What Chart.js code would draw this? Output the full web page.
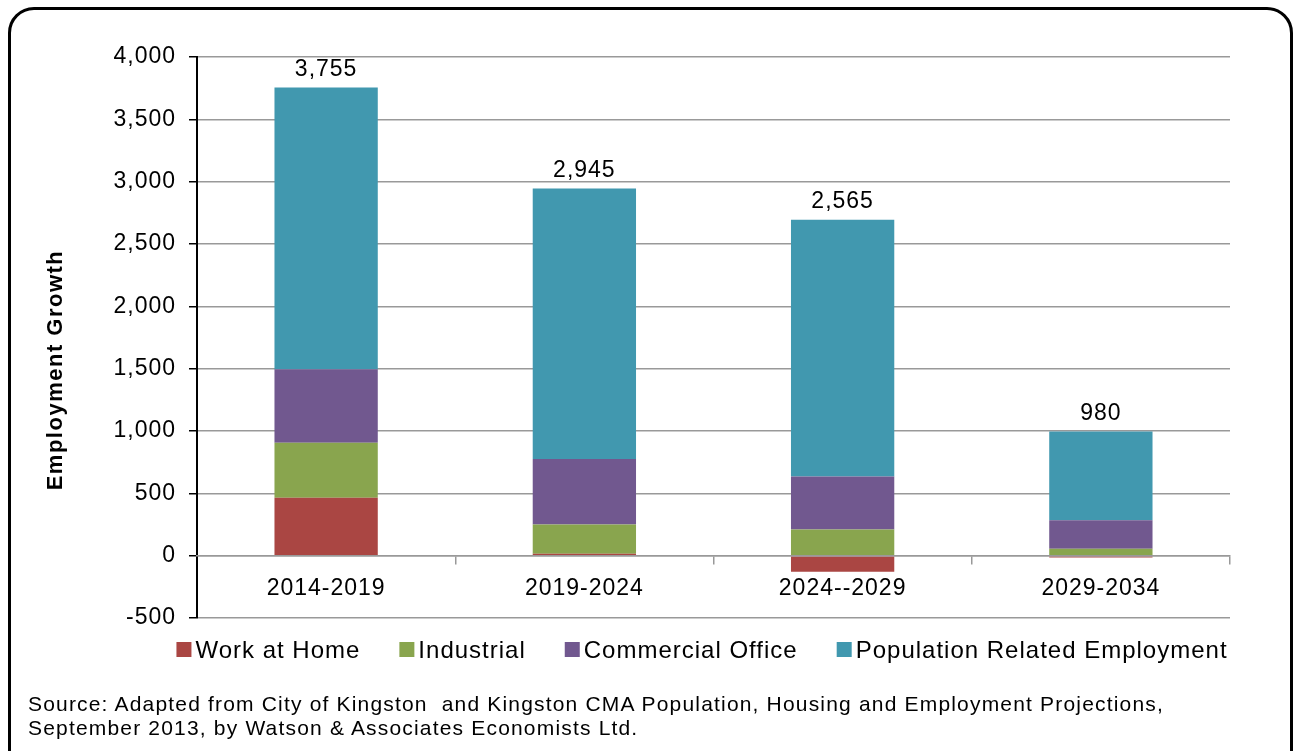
<!DOCTYPE html>
<html>
<head>
<meta charset="utf-8">
<title>Employment Growth</title>
<script src="https://cdn.jsdelivr.net/npm/chart.js@4.4.0/dist/chart.umd.min.js"></script>
<style>
  body { margin: 0; background: #fff; font-family: "Liberation Sans", Arial, sans-serif; overflow: hidden; }
  #frame { position: absolute; left: 8px; top: 7px; width: 1285px; height: 820px; border: 3px solid #000; border-radius: 26px; box-sizing: border-box; }
  #chart { position: absolute; left: 0; top: 0; }
  #source { position: absolute; left: 28px; top: 692px; font-size: 21px; line-height: 24px; letter-spacing: 1.18px; color: #000; white-space: nowrap; }
</style>
</head>
<body>
<div id="frame"></div>
<canvas id="chart" width="1297" height="751"></canvas>
<div id="source">Source: Adapted from City of Kingston&nbsp; and Kingston CMA Population, Housing and Employment Projections,<br>September 2013, by Watson &amp; Associates Economists Ltd.</div>

<script>
// periods on the x axis
const periods = ['2014-2019', '2019-2024', '2024--2029', '2029-2034'];

// employment growth by sector (jobs)
const workAtHome = [465, 15, -130, -15];
const industrial = [440, 235, 210, 55];
const commercialOffice = [590, 525, 425, 230];
const populationRelated = [2260, 2170, 2060, 710];

const seriesNames = ['Work at Home', 'Industrial', 'Commercial Office', 'Population Related Employment'];
const seriesColors = ['#AA4643', '#89A54E', '#71588F', '#4198AF'];
const seriesValues = [workAtHome, industrial, commercialOffice, populationRelated];

// y axis range
const yMin = -500;
const yMax = 4000;
const yStep = 500;

const FONT = '"Liberation Sans", Arial, sans-serif';
const SIZE = 23;
const SPACING = '1px';

// wider text, set again whenever the canvas state is reset
const letterSpacing = {
  id: 'letterSpacing',
  beforeUpdate(chart) { chart.ctx.letterSpacing = SPACING; },
  beforeDraw(chart) { chart.ctx.letterSpacing = SPACING; }
};

// totals written over each stack
const totalLabels = {
  id: 'totalLabels',
  afterDatasetsDraw(chart) {
    const { ctx } = chart;
    const xScale = chart.scales.x;
    const yScale = chart.scales.y;
    ctx.save();
    ctx.letterSpacing = SPACING;
    ctx.font = SIZE + 'px ' + FONT;
    ctx.fillStyle = '#000';
    ctx.textAlign = 'center';
    ctx.textBaseline = 'alphabetic';
    periods.forEach((p, i) => {
      const total = seriesValues.reduce((s, arr) => s + arr[i], 0);
      const top = seriesValues.reduce((s, arr) => s + Math.max(arr[i], 0), 0);
      const x = xScale.getPixelForValue(i);
      const y = yScale.getPixelForValue(top) - 12;
      ctx.fillText(total.toLocaleString('en-US'), x, y);
    });
    ctx.restore();
  }
};

// rotated y axis title
const yTitle = {
  id: 'yTitle',
  afterDraw(chart) {
    const { ctx } = chart;
    ctx.save();
    ctx.letterSpacing = '1.5px';
    ctx.font = 'bold 22px ' + FONT;
    ctx.fillStyle = '#000';
    ctx.textAlign = 'center';
    ctx.textBaseline = 'middle';
    ctx.translate(56, 370);
    ctx.rotate(-Math.PI / 2);
    ctx.fillText('Employment Growth', 0, 0);
    ctx.restore();
  }
};

// legend row under the plot: small square, name, wide gap
const bottomLegend = {
  id: 'bottomLegend',
  afterDraw(chart) {
    const { ctx } = chart;
    const box = 15, gap = 4, itemGap = 39, centerX = 702, y = 650;
    ctx.save();
    ctx.letterSpacing = SPACING;
    ctx.font = '24px ' + FONT;
    ctx.textBaseline = 'middle';
    const widths = chart.data.datasets.map(ds => box + gap + ctx.measureText(ds.label).width);
    const total = widths.reduce((a, b) => a + b, 0) + itemGap * (widths.length - 1);
    let x = centerX - total / 2;
    chart.data.datasets.forEach((ds, i) => {
      ctx.fillStyle = ds.backgroundColor;
      ctx.fillRect(x, y - 8, box, box);
      ctx.fillStyle = '#000';
      ctx.fillText(ds.label, x + box + gap, y + 1);
      x += widths[i] + itemGap;
    });
    ctx.restore();
  }
};

const datasets = seriesNames.map((name, i) => ({
  label: name,
  data: seriesValues[i],
  backgroundColor: seriesColors[i],
  borderWidth: 0,
  categoryPercentage: 0.8,
  barPercentage: 0.5
}));

const ctx = document.getElementById('chart').getContext('2d');
new Chart(ctx, {
  type: 'bar',
  data: { labels: periods, datasets: datasets },
  plugins: [letterSpacing, totalLabels, yTitle, bottomLegend],
  options: {
    responsive: false,
    animation: false,
    layout: { padding: { left: 10, right: 67, top: 57, bottom: 133 } },
    plugins: {
      legend: { display: false },
      tooltip: { enabled: false }
    },
    scales: {
      x: {
        stacked: true,
        position: { y: 0 },
        grid: { drawOnChartArea: false, offset: true, color: '#999', lineWidth: 1.5, tickLength: 8 },
        border: { color: '#999', width: 1.5, z: 1 },
        ticks: { color: '#000', font: { size: SIZE, family: FONT }, padding: 11, maxRotation: 0 }
      },
      y: {
        stacked: true,
        min: yMin,
        max: yMax,
        ticks: {
          stepSize: yStep,
          color: '#000',
          font: { size: SIZE, family: FONT },
          padding: 13,
          callback: v => v.toLocaleString('en-US')
        },
        grid: { color: '#999', lineWidth: 1.5, tickColor: '#000', tickLength: 8 },
        border: { color: '#000', width: 2 },
        afterFit: scale => { scale.width = 187; }
      }
    }
  }
});
</script>
</body>
</html>
